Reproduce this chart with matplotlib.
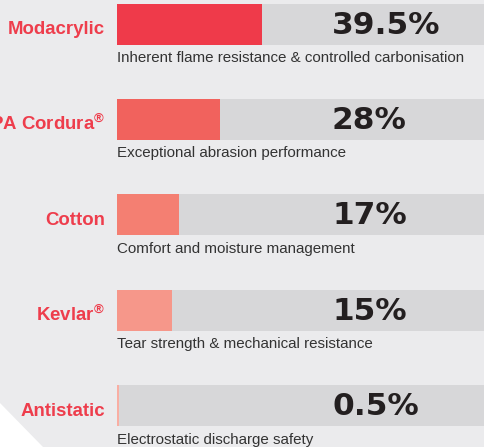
import matplotlib
matplotlib.use("Agg")
import matplotlib.pyplot as plt
from matplotlib.patches import Polygon

# ---- data ----
materials = ["Modacrylic", "PA Cordura$^{®}$", "Cotton", "Kevlar$^{®}$", "Antistatic"]
values = [39.5, 28, 17, 15, 0.5]
value_labels = ["39.5%", "28%", "17%", "15%", "0.5%"]
descriptions = [
    "Inherent flame resistance & controlled carbonisation",
    "Exceptional abrasion performance",
    "Comfort and moisture management",
    "Tear strength & mechanical resistance",
    "Electrostatic discharge safety",
]
track_max = 100

# ---- styling ----
bg = "#ebebed"
track_color = "#d7d7d9"
fill_colors = ["#ef3a4a", "#f1625d", "#f47f72", "#f6978a", "#f9aea3"]
label_color = "#ee3d4c"
desc_color = "#333333"
pct_color = "#231f20"

plt.rcParams["mathtext.fontset"] = "custom"
plt.rcParams["mathtext.rm"] = "Liberation Sans:bold"
plt.rcParams["mathtext.it"] = "Liberation Sans:bold"
plt.rcParams["mathtext.bf"] = "Liberation Sans:bold"
plt.rcParams["mathtext.default"] = "rm"

W, H = 484, 447
fig = plt.figure(figsize=(W / 100, H / 100), dpi=100)
fig.patch.set_facecolor(bg)

# white corner triangle bottom-left
tri = Polygon([[0, 0], [0, (H - 403) / H], [43 / W, 0]], closed=True,
              transform=fig.transFigure, facecolor="white", edgecolor="none", zorder=0)
fig.patches.append(tri)

left = 117 / W
ax = fig.add_axes([left, 0, 1 - left, 1])
ax.set_facecolor("none")
ax.set_xlim(0, track_max)
spacing = 95.4
first = 24
ax.set_ylim((H - first) / spacing, -first / spacing)
ax.axis("off")

bar_h = 41 / spacing
n = len(materials)
ys = list(range(n))
ax.barh(ys, [track_max] * n, height=bar_h, color=track_color, left=0, zorder=1)
ax.barh(ys, values, height=bar_h, color=fill_colors, left=0, zorder=2)

for i in ys:
    ax.text(-12 / (W - 117) * track_max, i + 10.5 / spacing, materials[i],
            ha="right", va="baseline", fontsize=13.4, fontweight="bold",
            family="Liberation Sans", color=label_color, clip_on=False)
    ax.text((332 - 117) / (W - 117) * track_max, i + 9.5 / spacing, value_labels[i],
            ha="left", va="baseline", fontsize=22.5, fontweight="heavy",
            family="DejaVu Sans", color=pct_color, zorder=3)
    ax.text(0, i + 38 / spacing, descriptions[i],
            ha="left", va="baseline", fontsize=10.9,
            family="Liberation Sans", color=desc_color)

fig.savefig("out.png", dpi=100, facecolor=bg)
